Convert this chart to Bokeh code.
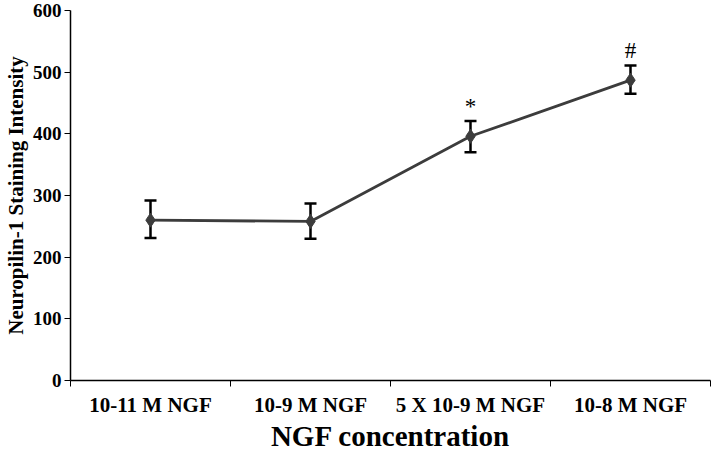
from bokeh.plotting import figure
from bokeh.models import ColumnDataSource, Range1d, FixedTicker, Whisker
from bokeh.core.properties import value
from bokeh.embed import file_html
from bokeh.resources import INLINE

categories = ["10-11 M NGF", "10-9 M NGF", "5 X 10-9 M NGF", "10-8 M NGF"]
means = [260, 258, 396, 487]
upper = [292, 287, 421, 511]
lower = [231, 230, 370, 465]
marks = ["", "", "*", "#"]
y_ticks = [0, 100, 200, 300, 400, 500, 600]

xpos = [i + 0.5 for i in range(len(categories))]
src = ColumnDataSource(dict(x=xpos, y=means, upper=upper, lower=lower, mark=marks))

FONT = "Liberation Serif"

p = figure(width=712, height=454, output_backend="svg", toolbar_location=None,
           x_range=Range1d(0, len(categories)), y_range=Range1d(0, 600),
           min_border_left=58, min_border_right=2, min_border_top=10, min_border_bottom=60)
p.outline_line_color = None
p.xgrid.grid_line_color = None
p.ygrid.grid_line_color = None
p.background_fill_color = "white"
p.border_fill_color = "white"

# x axis: labels at category centres, ticks at boundaries
p.xaxis.ticker = FixedTicker(ticks=xpos, minor_ticks=list(range(len(categories) + 1)))
p.xaxis.major_label_overrides = {x: c for x, c in zip(xpos, categories)}
p.xaxis.major_tick_line_color = None
p.xaxis.minor_tick_line_color = "black"
p.xaxis.minor_tick_out = 6
p.xaxis.minor_tick_in = 0
p.xaxis.minor_tick_line_width = 1
p.xaxis.axis_line_color = "black"
p.xaxis.axis_line_width = 1.5
p.xaxis.major_label_text_font = FONT
p.xaxis.major_label_text_font_style = "bold"
p.xaxis.major_label_text_font_size = "21px"
p.xaxis.major_label_text_color = "black"
p.xaxis.major_label_standoff = 6
p.xaxis.axis_label = "NGF concentration"
p.xaxis.axis_label_text_font = FONT
p.xaxis.axis_label_text_font_style = "bold"
p.xaxis.axis_label_text_font_size = "29px"
p.xaxis.axis_label_text_color = "black"
p.xaxis.axis_label_standoff = 0

p.yaxis.ticker = FixedTicker(ticks=y_ticks)
p.yaxis.minor_tick_line_color = None
p.yaxis.major_tick_out = 6
p.yaxis.major_tick_in = 0
p.yaxis.major_tick_line_color = "black"
p.yaxis.axis_line_color = "black"
p.yaxis.axis_line_width = 1.5
p.yaxis.major_label_text_font = FONT
p.yaxis.major_label_text_font_style = "bold"
p.yaxis.major_label_text_font_size = "19px"
p.yaxis.major_label_text_color = "black"
p.yaxis.major_label_standoff = 3
p.yaxis.axis_label = "Neuropilin-1 Staining Intensity"
p.yaxis.axis_label_text_font = FONT
p.yaxis.axis_label_text_font_style = "bold"
p.yaxis.axis_label_text_font_size = "21px"
p.yaxis.axis_label_text_color = "black"
p.yaxis.axis_label_standoff = 2

p.line("x", "y", source=src, line_color="#3c3c3c", line_width=2.8)
w = Whisker(base="x", upper="upper", lower="lower", source=src,
            line_color="black", line_width=2.5)
w.upper_head.size = 12
w.lower_head.size = 12
w.upper_head.line_width = 2.5
w.lower_head.line_width = 2.5
w.upper_head.line_color = "black"
w.lower_head.line_color = "black"
p.add_layout(w)
p.scatter("x", "y", source=src, marker="diamond", size=14,
          fill_color="#3c3c3c", line_color="#3c3c3c")
p.text("x", "upper", text="mark", source=src, text_font=value(FONT),
       text_font_size="23px", text_align="center", text_baseline="bottom",
       y_offset=-2, text_color="black")

open("out.html", "w").write(file_html(p, INLINE))
